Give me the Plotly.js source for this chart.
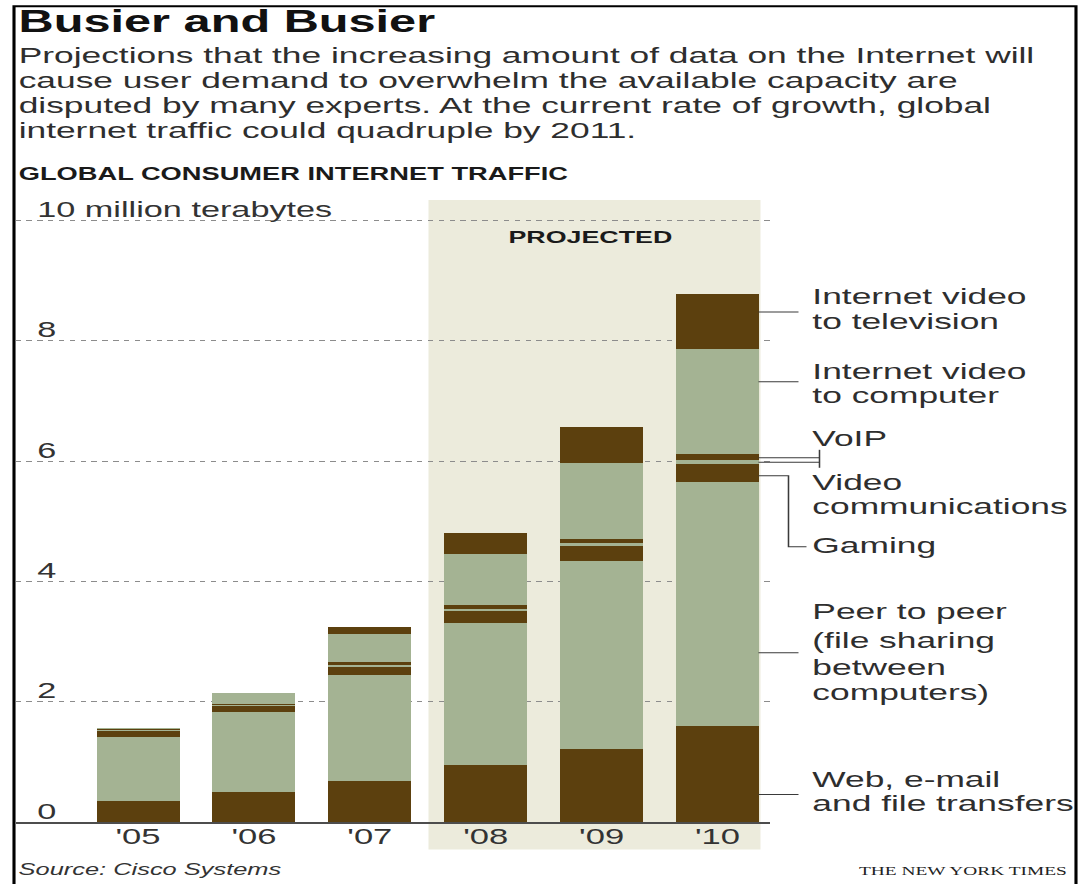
<!DOCTYPE html>
<html>
<head>
<meta charset="utf-8">
<script src="https://cdn.plot.ly/plotly-3.0.1.min.js"></script>
<style>
  html, body { margin: 0; padding: 0; background: #ffffff; overflow: hidden; }
  #chart { width: 696px; height: 884px; transform: scaleX(1.55029); transform-origin: 0 0; }
</style>
</head>
<body>
<div id="chart"></div>
<script>
// ---------------- DATA ----------------
const years = ["'05", "'06", "'07", "'08", "'09", "'10"];
const web             = [0.35, 0.50, 0.68, 0.94, 1.22, 1.59];
const peerToPeer      = [1.07, 1.33, 1.77, 2.37, 3.12, 4.06];
const gaming          = [0.10, 0.10, 0.12, 0.195, 0.245, 0.305];
const videoComm       = [0.01, 0.01, 0.045, 0.04, 0.055, 0.07];
const voip            = [0.01, 0.02, 0.04, 0.055, 0.07, 0.10];
const videoToComputer = [0.02, 0.18, 0.475, 0.85, 1.25, 1.73];
const videoToTV       = [0.00, 0.01, 0.12, 0.35, 0.61, 0.93];

const seriesNames = ["Web, e-mail and file transfers", "Peer to peer (file sharing between computers)",
  "Gaming", "Video communications", "VoIP", "Internet video to computer", "Internet video to television"];
const seriesLabelLines = [
  ["Web, e-mail", "and file transfers"],
  ["Peer to peer", "(file sharing", "between", "computers)"],
  ["Gaming"],
  ["Video", "communications"],
  ["VoIP"],
  ["Internet video", "to computer"],
  ["Internet video", "to television"]
];
const yTickValues = [0, 2, 4, 6, 8, 10];
const yTickLabels = ["0", "2", "4", "6", "8", "10 million terabytes"];

const titleText = "Busier and Busier";
const introLines = [
  "Projections that the increasing amount of data on the Internet will",
  "cause user demand to overwhelm the available capacity are",
  "disputed by many experts. At the current rate of growth, global",
  "internet traffic could quadruple by 2011."
];
const chartHeader = "GLOBAL CONSUMER INTERNET TRAFFIC";
const projectedLabel = "PROJECTED";
const sourceText = "Source: Cisco Systems";
const creditText = "THE NEW YORK TIMES";

// ---------------- STYLE / LAYOUT HELPERS ----------------
const DARK = "#5c400e";
const LIGHT = "#a4b393";
const SHADE = "#ecebdc";
const S = 1079 / 696;
const PL = 15, PR = 770, PT = 200, PB = 822.5;
const px = x => (x - PL) / (PR - PL);
const py = y => (PB - y) / (PB - PT);
const SANS = "Liberation Sans, Arial, sans-serif";

const seriesValues = [web, peerToPeer, gaming, videoComm, voip, videoToComputer, videoToTV];
const seriesColors = [DARK, LIGHT, DARK, LIGHT, DARK, LIGHT, DARK];

const traces = seriesValues.map((vals, i) => ({
  type: "bar",
  name: seriesNames[i],
  x: years,
  y: vals,
  marker: { color: seriesColors[i], line: { width: 0 } },
  hovertemplate: "%{x}: %{y} million TB<extra>" + seriesNames[i] + "</extra>"
}));

const annotations = [];
function txt(text, x, y, size, opts) {
  annotations.push(Object.assign({
    text: text, xref: "paper", yref: "paper", x: px(x), y: py(y),
    xanchor: "left", yanchor: "middle", showarrow: false,
    font: { family: SANS, size: size, color: "#2e2e2e" }
  }, opts || {}));
}

txt("<b>" + titleText + "</b>", 15, 21, 31.4, { font: { family: SANS, size: 31.4, color: "#111" } });
const introY = [55, 80, 105, 130];
introLines.forEach((l, i) => txt(l, 15, introY[i], 22.8));
txt("<b>" + chartHeader + "</b>", 15, 174, 17.6, { font: { family: SANS, size: 17.6, color: "#1a1a1a" } });
txt("<b>" + projectedLabel + "</b>", 590, 237, 17.3, { xanchor: "center", font: { family: SANS, size: 17.3, color: "#1a1a1a" } });

// y tick labels (placed on the y scale, just above each gridline)
yTickValues.forEach((v, i) => {
  annotations.push({
    text: yTickLabels[i], xref: "paper", yref: "y", x: px(33), y: v, yshift: 11,
    xanchor: "left", yanchor: "middle", showarrow: false,
    font: { family: SANS, size: 22.1, color: "#333" }
  });
});

// right-hand series labels
const labelY = [[779, 803], [611, 640, 667, 692], [545], [482, 506], [438], [371, 395], [296, 321]];
seriesLabelLines.forEach((lines, i) => {
  lines.forEach((l, j) => txt(l, 809, labelY[i][j], 22.8, { font: { family: SANS, size: 22.8, color: "#2e2e2e" } }));
});

txt("<i>" + sourceText + "</i>", 15, 870, 16.4, { font: { family: SANS, size: 16.4, color: "#333" } });
txt(creditText, 1069, 872, 12.5, { xanchor: "right", font: { family: "Liberation Serif, Times New Roman, serif", size: 12.5, color: "#222" } });

// shapes
const shapes = [];
// projected shading
shapes.push({ type: "rect", xref: "paper", yref: "paper", x0: px(428), x1: px(760), y0: py(850), y1: py(200),
  fillcolor: SHADE, line: { width: 0 }, layer: "below" });
// frame
shapes.push({ type: "rect", xref: "paper", yref: "paper", x0: px(13.5), x1: px(1075.5), y0: py(900), y1: py(6),
  fillcolor: "rgba(0,0,0,0)", line: { color: "#000", width: 2 }, layer: "above" });
// leader lines
const leaders = [
  [[758, 795], [798, 795]],
  [[758, 653], [798, 653]],
  [[758, 476], [788, 476], [788, 547], [806, 547]],
  [[758, 462.5], [819, 462.5]],
  [[758, 458], [819, 458]],
  [[819, 450], [819, 468]],
  [[758, 382], [798, 382]],
  [[758, 312], [798, 312]]
];
leaders.forEach(pts => {
  const path = pts.map((p, k) => (k ? "L" : "M") + px(p[0]) + "," + py(p[1])).join(" ");
  shapes.push({ type: "path", xref: "paper", yref: "paper", path: path,
    line: { color: "#3a3a3a", width: 1 }, layer: "above" });
});

const layout = {
  width: 696, height: 884,
  margin: { l: PL / S, r: (1079 - PR) / S, t: PT, b: 884 - PB, pad: 0 },
  paper_bgcolor: "#ffffff",
  plot_bgcolor: "rgba(0,0,0,0)",
  barmode: "stack",
  bargap: 0.284,
  showlegend: false,
  xaxis: {
    type: "category", categoryorder: "array", categoryarray: years,
    range: [-1.057, 5.457], fixedrange: true,
    showline: true, linecolor: "#4d4d4d", linewidth: 2,
    ticks: "", showgrid: false, zeroline: false,
    ticklabelstandoff: -7,
    tickfont: { family: SANS, size: 22.3, color: "#333" }
  },
  yaxis: {
    range: [0, 10.34], fixedrange: true,
    tickvals: yTickValues, showticklabels: false,
    showgrid: true, gridcolor: "#8c8c8c", gridwidth: 1, griddash: "3.5px,3.5px",
    zeroline: false, showline: false, ticks: ""
  },
  annotations: annotations,
  shapes: shapes
};

Plotly.newPlot("chart", traces, layout, { displayModeBar: false, staticPlot: true });
</script>
</body>
</html>
